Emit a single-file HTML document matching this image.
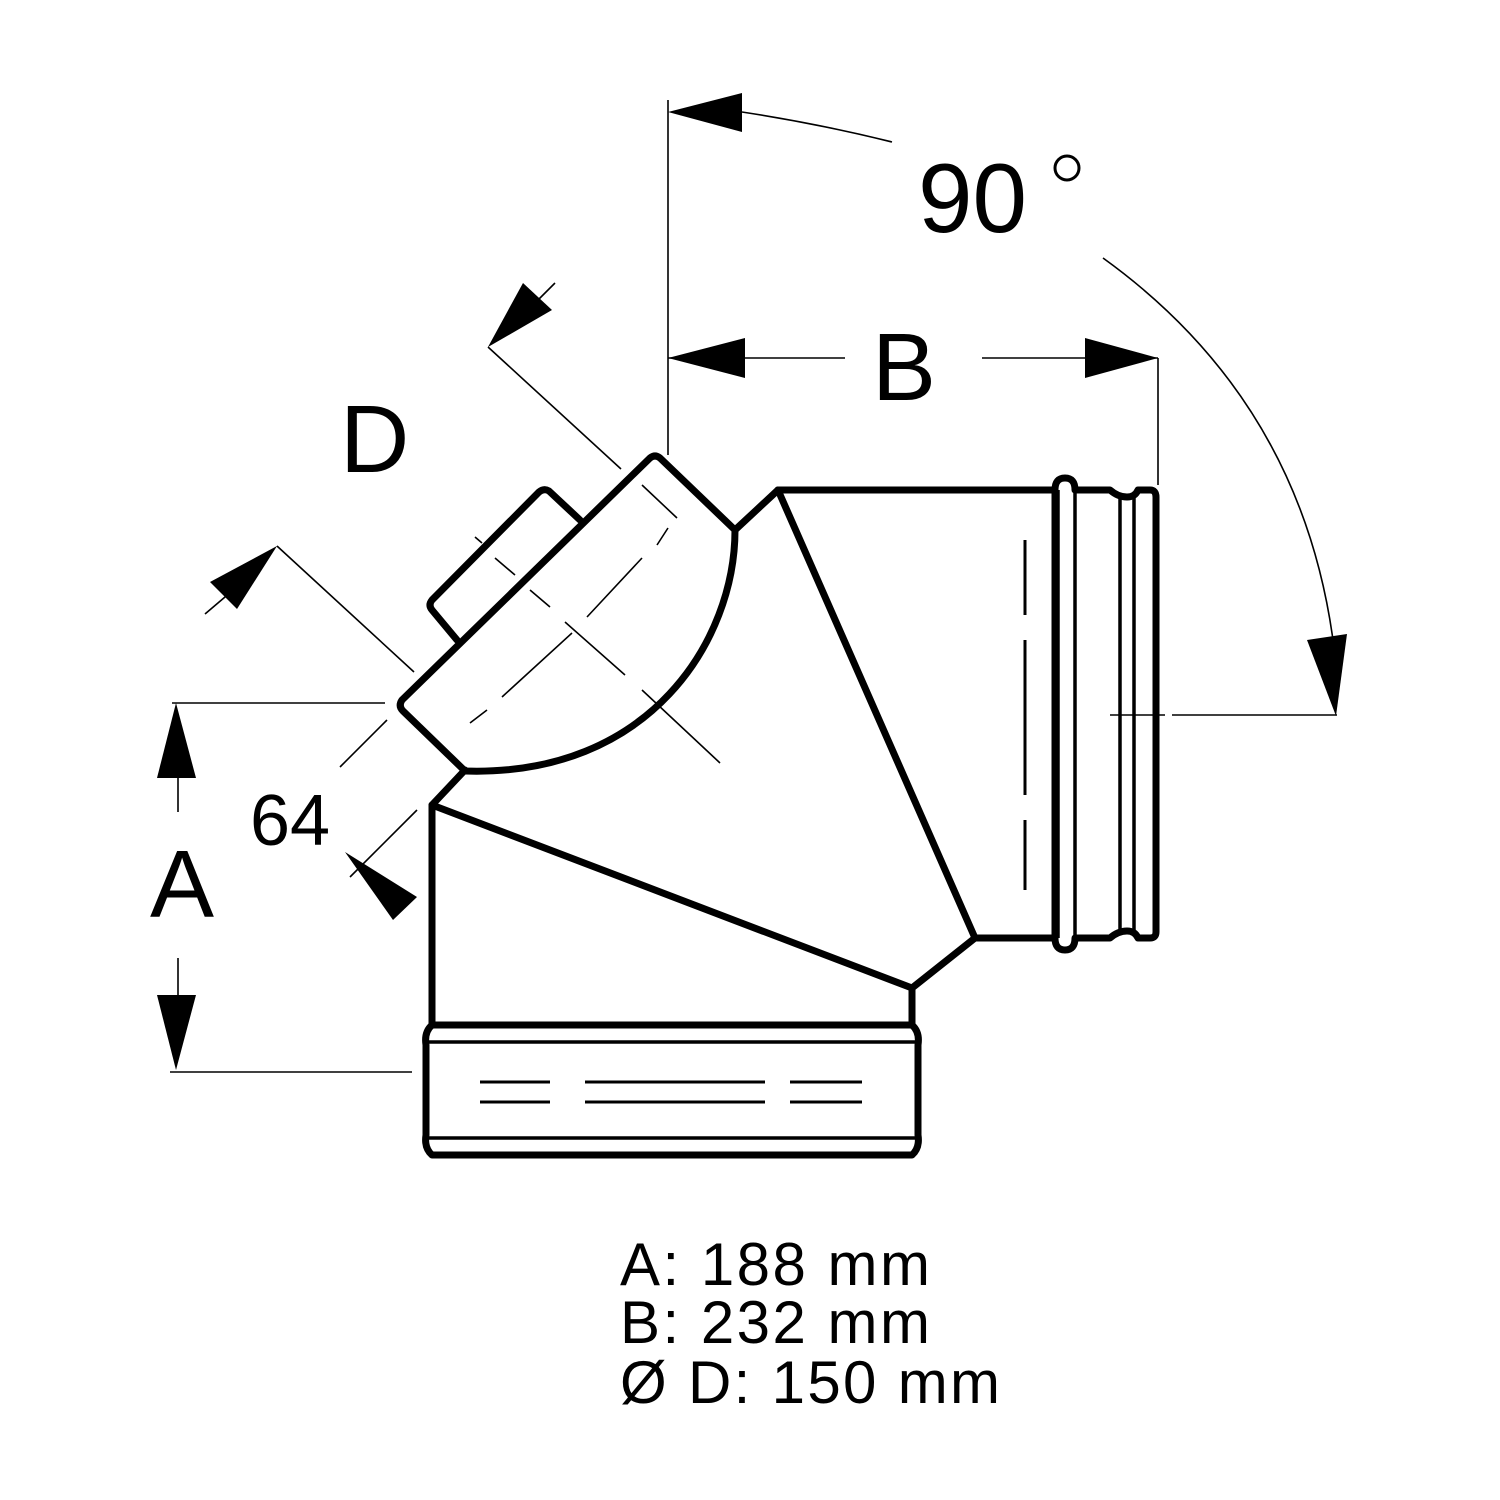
<!DOCTYPE html>
<html><head><style>
html,body{margin:0;padding:0;background:#fff;}
svg{display:block;}
text{font-family:"Liberation Sans",Arial,sans-serif;fill:#000;}
</style></head><body>
<svg width="1500" height="1500" viewBox="0 0 1500 1500" xmlns="http://www.w3.org/2000/svg">
<rect width="1500" height="1500" fill="#fff"/>
<g fill="none" stroke="#000" stroke-width="7" stroke-linejoin="round" stroke-linecap="round">
  <path d="M432,1025 L912,1025 Q920,1032 918,1045 L918,1135 Q920,1148 912,1155 L432,1155 Q424,1148 426,1135 L426,1045 Q424,1032 432,1025 Z"/>
  <path d="M432,1025 L432,805 L912,988 L912,1025"/>
  <path d="M432,805 L465,770"/>
  <path d="M912,988 L975,938"/>
  <path d="M778,490 L975,938"/>
  <path d="M778,490 L735,530"/>
  <path d="M778,490 L1055,490"/>
  <path d="M975,938 L1055,938"/>
  <path d="M1055,490 Q1055,478 1065,478 Q1075,478 1075,490 L1110,490 Q1118,497 1127,497 Q1135,497 1138,490 L1150,490 Q1156,490 1156,497 L1156,932 Q1156,938 1150,938 L1138,938 Q1135,931 1127,931 Q1118,931 1110,938 L1075,938 Q1075,950 1065,950 Q1055,950 1055,938 Z"/>
  <path d="M735,530 L660,458 Q655,454 650,458 L402,700 Q398,706 403,711 L465,771 C650,777 735,640 735,530 Z"/>
  <path d="M580,520 L549,491 Q544,488 539,492 L432,600 Q428,605 432,610 L457,640"/>
</g>
<g fill="none" stroke="#000" stroke-width="3.5">
  <line x1="426" y1="1042" x2="918" y2="1042"/>
  <line x1="426" y1="1138" x2="918" y2="1138"/>
  <line x1="1058" y1="490" x2="1058" y2="938"/>
  <line x1="1075" y1="490" x2="1075" y2="938"/>
  <line x1="1120" y1="497" x2="1120" y2="931"/>
  <line x1="1134" y1="497" x2="1134" y2="931"/>
</g>
<g fill="none" stroke="#000" stroke-width="3">
  <path d="M480,1082H550M585,1082H765M790,1082H862M480,1102H550M585,1102H765M790,1102H862"/>
  <path d="M1025,540V615M1025,640V795M1025,820V890"/>
</g>
<g fill="none" stroke="#000" stroke-width="1.6">
  <path d="M470,723L487,710M502,697L572,633M587,617L642,558M657,545L668,528M642,485L677,518"/>
  <path d="M565,622L625,675M642,690L720,763M550,607L530,590M495,558L515,575M475,537L482,543"/>
  <line x1="668" y1="100" x2="668" y2="455"/>
  <path d="M742,112 Q820,124 892,142"/>
  <path d="M1103,258 Q1300,400 1333,640"/>
  <line x1="1110" y1="715" x2="1165" y2="715"/>
  <line x1="1172" y1="715" x2="1337" y2="715"/>
  <line x1="668" y1="358" x2="845" y2="358"/>
  <line x1="982" y1="358" x2="1158" y2="358"/>
  <line x1="1158" y1="358" x2="1158" y2="485"/>
  <line x1="488" y1="347" x2="621" y2="469"/>
  <line x1="520" y1="318" x2="555" y2="283"/>
  <line x1="277" y1="546" x2="414" y2="672"/>
  <line x1="245" y1="580" x2="205" y2="614"/>
  <line x1="340" y1="767" x2="387" y2="720"/>
  <line x1="350" y1="877" x2="417" y2="810"/>
  <line x1="172" y1="703" x2="385" y2="703"/>
  <line x1="170" y1="1072" x2="412" y2="1072"/>
  <line x1="178" y1="778" x2="178" y2="812"/>
  <line x1="178" y1="958" x2="178" y2="995"/>
</g>
<g fill="#000" stroke="none">
  <polygon points="668,112 742,93 742,132"/>
  <polygon points="1336,716 1307,640 1347,634"/>
  <polygon points="668,358 745,338 745,378"/>
  <polygon points="1158,358 1085,338 1085,378"/>
  <polygon points="488,347 523,283 552,310"/>
  <polygon points="277,546 210,582 237,609"/>
  <polygon points="345,852 417,897 393,920"/>
  <polygon points="176,703 157,778 196,778"/>
  <polygon points="176,1070 157,995 196,995"/>
</g>
<text x="918" y="232" font-size="98">90</text>
<circle cx="1067" cy="168" r="12" fill="none" stroke="#000" stroke-width="3"/>
<text x="872" y="400" font-size="96">B</text>
<text x="340" y="472" font-size="96">D</text>
<text x="250" y="845" font-size="72">64</text>
<text x="150" y="917" font-size="96">A</text>
<text x="620" y="1285" font-size="60" textLength="310" lengthAdjust="spacing">A: 188 mm</text>
<text x="620" y="1343" font-size="60" textLength="310" lengthAdjust="spacing">B: 232 mm</text>
<text x="620" y="1403" font-size="60" textLength="380" lengthAdjust="spacing">Ø D: 150 mm</text>
</svg>
</body></html>
